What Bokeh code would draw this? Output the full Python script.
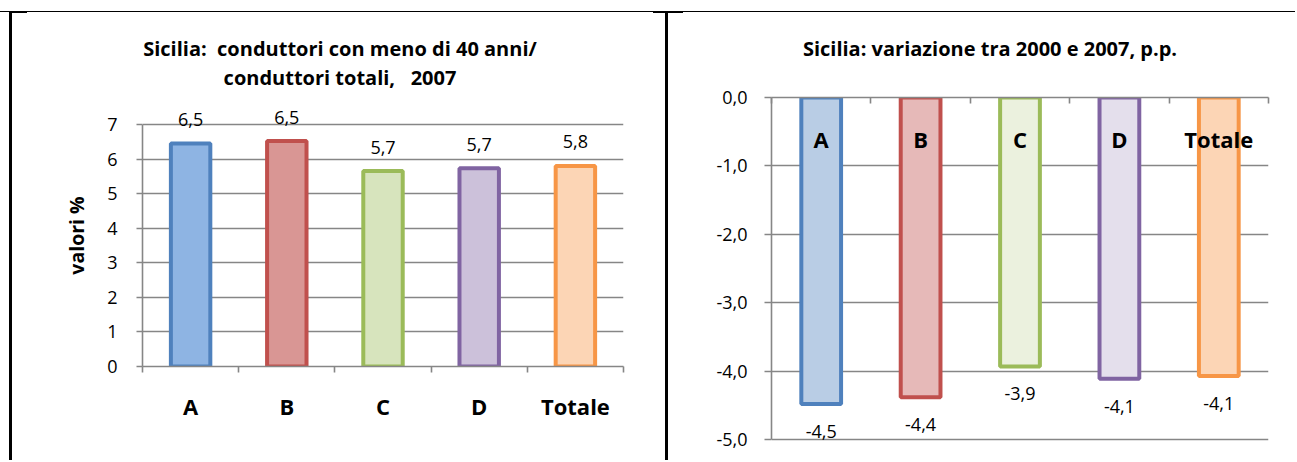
from bokeh.plotting import figure
from bokeh.models import (ColumnDataSource, Range1d, LinearAxis, FixedTicker,
                          LabelSet, Div, Grid)
from bokeh.layouts import row, column
from bokeh.core.properties import value
from bokeh.embed import file_html
from bokeh.resources import INLINE

# ---------------- data ----------------
categories = ["A", "B", "C", "D", "Totale"]
quota_2007 = [6.46, 6.53, 5.66, 5.74, 5.81]            # % conduttori < 40 anni
variazione_2000_2007 = [-4.48, -4.38, -3.93, -4.11, -4.07]  # punti percentuali
ticks_left = [0, 1, 2, 3, 4, 5, 6, 7]
ticks_right = [0, -1, -2, -3, -4, -5]
title_left = ["Sicilia:  conduttori con meno di 40 anni/", "conduttori totali,   2007"]
title_right = ["Sicilia: variazione tra 2000 e 2007, p.p."]
ylabel_left = "valori %"

# ---------------- styles ----------------
border_colors = ["#4F81BD", "#C0504D", "#9BBB59", "#8064A2", "#F79646"]
fill_left = ["#8EB4E3", "#D99694", "#D7E4BD", "#CCC1DA", "#FCD5B5"]
fill_right = ["#B9CDE5", "#E6B9B8", "#EBF1DE", "#E4DFEC", "#FCD5B5"]
GRAY = "#868686"
FONT = "Open Sans"


def fmt(v, dec=1):
    return f"{v:.{dec}f}".replace(".", ",")


xpos = list(range(len(categories)))
bounds = [i - 0.5 for i in range(len(categories) + 1)]
cat_overrides = {i: c for i, c in zip(xpos, categories)}


def base_fig(width, height, y_range, ml, mr, mt, mb):
    p = figure(width=width, height=height,
               x_range=Range1d(-0.5, len(categories) - 0.5), y_range=y_range,
               x_axis_type=None, y_axis_type=None,
               output_backend="svg", toolbar_location=None,
               min_border_left=ml, min_border_right=mr,
               min_border_top=mt, min_border_bottom=mb)
    p.outline_line_color = None
    p.background_fill_color = "white"
    p.border_fill_color = "white"
    return p


def style_axis(ax):
    ax.axis_line_color = GRAY
    ax.axis_line_width = 1.6
    ax.major_tick_line_color = GRAY
    ax.major_tick_line_width = 1.6
    ax.minor_tick_line_color = GRAY
    ax.minor_tick_line_width = 1.6
    ax.major_label_text_font = FONT
    ax.major_label_text_color = "black"


def title_div(lines, width, height, pad_top, pad_left, line_h):
    html = (f'<div style="font-family:\'{FONT}\';font-weight:bold;font-size:20px;'
            f'line-height:{line_h}px;text-align:center;padding-top:{pad_top}px;'
            f'padding-left:{pad_left}px;width:{width}px;box-sizing:border-box;'
            'color:black;white-space:pre;margin:0">'
            + "<br>".join(lines) + "</div>")
    return Div(text=html, width=width, height=height, margin=0)


# ================= LEFT CHART =================
src_l = ColumnDataSource(dict(x=xpos, y=quota_2007,
                              txt=[fmt(v) for v in quota_2007],
                              fill=fill_left, line=border_colors))
p1 = base_fig(653, 356, Range1d(0, 7.59), 130, 42, 0, 94)

p1.add_layout(Grid(dimension=1, ticker=FixedTicker(ticks=ticks_left),
                   grid_line_color=GRAY, grid_line_width=1.6))

p1.vbar(x="x", top="y", bottom=0, width=0.41, fill_color="fill",
        line_color="line", line_width=4, source=src_l)

ya1 = LinearAxis(ticker=FixedTicker(ticks=ticks_left), axis_label=ylabel_left,
                 bounds=(ticks_left[0], ticks_left[-1]))
style_axis(ya1)
ya1.major_tick_in = 0
ya1.major_tick_out = 6
ya1.major_label_standoff = 19
ya1.major_label_text_font_size = "18px"
ya1.axis_label_text_font = FONT
ya1.axis_label_text_font_style = "bold"
ya1.axis_label_text_font_size = "19.5px"
ya1.axis_label_text_color = "black"
ya1.axis_label_standoff = 14
p1.add_layout(ya1, "left")

xa1 = LinearAxis(ticker=FixedTicker(ticks=xpos, minor_ticks=bounds),
                 major_label_overrides=cat_overrides)
style_axis(xa1)
xa1.major_tick_line_color = None
xa1.major_tick_in = 0
xa1.major_tick_out = 0
xa1.minor_tick_in = 0
xa1.minor_tick_out = 6
xa1.major_label_standoff = 18
xa1.major_label_text_font_size = "22px"
xa1.major_label_text_font_style = "bold"
p1.add_layout(xa1, "below")

p1.add_layout(LabelSet(x="x", y="y", text="txt", source=src_l, y_offset=24,
                       text_align="center", text_baseline="middle",
                       text_font=value(FONT), text_font_size="18px",
                       text_color="black"))

t1 = title_div(title_left, 653, 91, 21, 3, 29)

# ================= RIGHT CHART =================
src_r = ColumnDataSource(dict(x=xpos, y=variazione_2000_2007,
                              txt=[fmt(v) for v in variazione_2000_2007],
                              fill=fill_right, line=border_colors))
p2 = base_fig(627, 378, Range1d(-5.13, 0), 103, 27, 15, 12)

p2.add_layout(Grid(dimension=1, ticker=FixedTicker(ticks=ticks_right),
                   grid_line_color=GRAY, grid_line_width=1.6))

p2.vbar(x="x", top=0, bottom="y", width=0.40, fill_color="fill",
        line_color="line", line_width=4, source=src_r)

ya2 = LinearAxis(ticker=FixedTicker(ticks=ticks_right),
                 major_label_overrides={t: fmt(t) for t in ticks_right},
                 bounds=(ticks_right[-1], ticks_right[0]))
style_axis(ya2)
ya2.major_tick_in = 0
ya2.major_tick_out = 7
ya2.major_label_standoff = 17
ya2.major_label_text_font_size = "18px"
p2.add_layout(ya2, "left")

xa2 = LinearAxis(ticker=FixedTicker(ticks=xpos, minor_ticks=bounds),
                 major_label_overrides=cat_overrides)
style_axis(xa2)
xa2.major_tick_line_color = None
xa2.major_tick_in = 0
xa2.major_tick_out = 0
xa2.minor_tick_in = 6
xa2.minor_tick_out = 0
xa2.major_label_standoff = -56
xa2.major_label_text_font_size = "22px"
xa2.major_label_text_font_style = "bold"
p2.add_layout(xa2, "above")

p2.add_layout(LabelSet(x="x", y="y", text="txt", source=src_r, y_offset=-27.5,
                       text_align="center", text_baseline="middle",
                       text_font=value(FONT), text_font_size="18px",
                       text_color="black"))

t2 = title_div(title_right, 627, 69, 24, 17, 24)

# ================= frame lines & layout =================
def block(w, h, color=None):
    st = {"background-color": color} if color else {}
    return Div(text="", width=w, height=h, margin=0, styles=st)


W = 1295
layout = column(
    block(W, 11),
    block(W, 1, "black"),
    row(block(9, 1), block(18, 1, "black"), block(626, 1),
        block(30, 1, "black"), block(W - 683, 1), spacing=0),
    row(block(9, 447), block(3, 447, "black"),
        column(t1, p1, spacing=0),
        block(3, 447, "black"),
        column(t2, p2, spacing=0),
        spacing=0),
    spacing=0,
)

open("out.html", "w").write(file_html(layout, INLINE))
